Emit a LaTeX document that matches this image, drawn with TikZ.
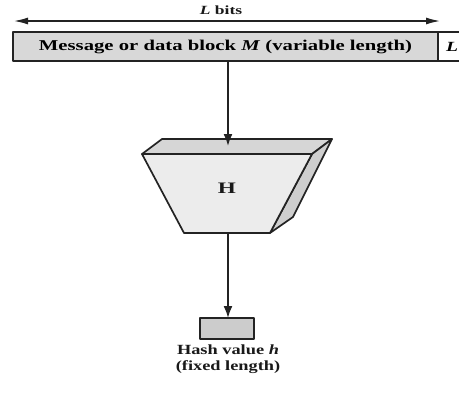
\documentclass[tikz,border=0pt]{standalone}
\usepackage{fontspec}
\setmainfont{Liberation Serif}
\usepackage{graphicx}
\usetikzlibrary{arrows.meta}
\definecolor{lineclr}{RGB}{35,35,35}
\definecolor{msgfill}{RGB}{216,216,216}
\definecolor{frontfill}{RGB}{236,236,236}
\definecolor{topfill}{RGB}{214,214,214}
\definecolor{sidefill}{RGB}{206,206,206}
\definecolor{hashfill}{RGB}{204,204,204}
\begin{document}
\begin{tikzpicture}[x=1pt,y=-1pt,
  ln/.style={line width=1.7pt, draw=lineclr, line join=round},
  arr/.style={ln, -{Latex[length=12pt,width=9pt]}},
  dblarr/.style={line width=1.4pt, draw=lineclr, {Latex[length=14pt,width=7pt]}-{Latex[length=14pt,width=7pt]}},
  boxm/.style={ln, fill=msgfill, inner sep=0pt, outer sep=0pt},
  boxl/.style={ln, fill=white, inner sep=0pt, outer sep=0pt},
  lbl/.style={inner sep=0pt, text=black!90, font=\bfseries}]
\useasboundingbox (0,0) rectangle (459,400);
% L bits arrow
\coordinate (la) at (14,21);
\coordinate (lb) at (440,21);
\draw[dblarr] (la) -- (lb);
\node[lbl, font=\bfseries\fontsize{12.5}{14}\selectfont] (lbits) at (221,10) {\scalebox{1.4}[1]{\textit{L} bits}};
% message block
\node[boxm, minimum width=425pt, minimum height=29pt,
      font=\bfseries\fontsize{15}{17}\selectfont] (msg) at (225.5,46.5)
      {\scalebox{1.38}[1]{Message or data block \textit{M} (variable length)}};
\node[boxl, anchor=west, minimum width=28pt, minimum height=29pt,
      font=\bfseries\fontsize{14}{16}\selectfont] (lbox) at (msg.east)
      {\scalebox{1.4}[1]{\textit{L}}};
% hash function H
\coordinate (f1) at (142,154);
\coordinate (f2) at (312,154);
\coordinate (f3) at (270,233);
\coordinate (f4) at (184,233);
\coordinate (t1) at (162,139);
\coordinate (t2) at (332,139);
\coordinate (s3) at (293,217);
\filldraw[ln, fill=topfill] (f1) -- (t1) -- (t2) -- (f2) -- cycle;
\filldraw[ln, fill=sidefill] (f2) -- (t2) -- (s3) -- (f3) -- cycle;
\filldraw[ln, fill=frontfill] (f1) -- (f2) -- (f3) -- (f4) -- cycle;
\node[lbl, font=\bfseries\fontsize{16}{18}\selectfont] (H) at (227,188) {\scalebox{1.45}[1]{H}};
\coordinate (htop) at (228,146);
\coordinate (hbot) at (228,233);
\draw[arr] (msg.south -| htop) -- (htop);
% hash value
\node[boxm, fill=hashfill, minimum width=54pt, minimum height=21pt] (hbox) at (227,328.5) {};
\draw[arr] (hbot) -- (hbox.north -| hbot);
\node[lbl, align=center, font=\bfseries\fontsize{14}{16}\selectfont] (hlab) at (228,359)
  {\scalebox{1.31}[1]{Hash value \textit{h}}\\\scalebox{1.31}[1]{(fixed length)}};
\end{tikzpicture}
\end{document}
